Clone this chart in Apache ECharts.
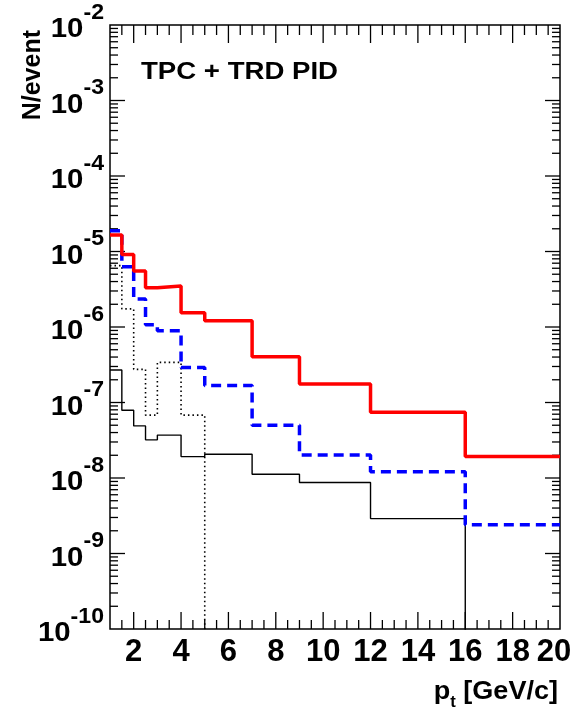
<!DOCTYPE html>
<html>
<head>
<meta charset="utf-8">
<script src="https://cdn.jsdelivr.net/npm/echarts@6/dist/echarts.min.js"></script>
<style>html,body{margin:0;padding:0;background:#fff;}#c{width:586px;height:713px;}</style>
</head>
<body>
<div id="c"></div>
<script>
// Bin lower edges (last value = upper edge of the last bin), GeV/c
const binEdges = [1, 1.5, 2, 2.5, 3, 4, 5, 7, 9, 12, 16, 20];
// N/event per bin
const redValues    = [1.66e-5, 9.1e-6, 5.5e-6, 3.3e-6, 3.5e-6, 1.55e-6, 1.21e-6, 4.05e-7, 1.76e-7, 7.4e-8, 1.92e-8];
const blueValues   = [1.89e-5, 6.3e-6, 2.35e-6, 1.07e-6, 8.9e-7, 2.9e-7, 1.68e-7, 5.0e-8, 2.02e-8, 1.21e-8, 2.4e-9];
const blackValues  = [2.7e-7, 7.9e-8, 4.9e-8, 3.2e-8, 3.7e-8, 1.92e-8, 2.06e-8, 1.12e-8, 8.7e-9, 2.9e-9, 0];
const dottedValues = [6.5e-6, 1.74e-6, 2.75e-7, 6.8e-8, 3.4e-7, 6.8e-8, 0, 0, 0, 0, 0];

// Axis ranges and tick labels
const xMin = 1, xMax = 20;
const yMin = 1e-10, yMax = 1e-2;
const xTickLabels = [2, 4, 6, 8, 10, 12, 14, 16, 18, 20];
const yTickExponents = [-10, -9, -8, -7, -6, -5, -4, -3, -2];

const xMajorTicks = xTickLabels.filter(v => v < xMax);
const xMinorTicks = [];
for (let v = 1.5; v < xMax; v += 0.5) { if (v % 2 !== 0) xMinorTicks.push(v); }
const yMajorTicks = yTickExponents.slice(1, -1).map(e => Math.pow(10, e));
const yMinorTicks = [];
for (let e = -10; e < -2; e++) { for (let k = 2; k <= 9; k++) yMinorTicks.push(k * Math.pow(10, e)); }

const FLOOR = 1e-14; // empty bins are drawn below the visible range (clipped)
function histPoints(vals) {
  const pts = vals.map((v, i) => [binEdges[i], v > 0 ? v : FLOOR]);
  const last = vals[vals.length - 1];
  pts.push([binEdges[binEdges.length - 1], last > 0 ? last : FLOOR]);
  return pts;
}

const tickData = [];
xMajorTicks.forEach(v => tickData.push([v, yMin, 0]));
xMinorTicks.forEach(v => tickData.push([v, yMin, 1]));
yMajorTicks.forEach(v => tickData.push([xMin, v, 2]));
yMinorTicks.forEach(v => tickData.push([xMin, v, 3]));

const FONT = '"Liberation Sans", Arial, Helvetica, sans-serif';

function renderTick(params, api) {
  const kind = api.value(2);
  const st = {stroke: '#000', lineWidth: 1.3};
  if (kind <= 1) {
    const x = api.value(0);
    const len = kind === 0 ? 17 : 9;
    const lenTop = kind === 0 ? 18 : 10;
    const pb = api.coord([x, yMin]);
    const pt = api.coord([x, yMax]);
    return {type: 'group', children: [
      {type: 'line', shape: {x1: pb[0], y1: pb[1], x2: pb[0], y2: pb[1] - len}, style: st},
      {type: 'line', shape: {x1: pt[0], y1: pt[1], x2: pt[0], y2: pt[1] + lenTop}, style: st}
    ]};
  }
  const y = api.value(1);
  const len = kind === 2 ? 15 : 8;
  const pl = api.coord([xMin, y]);
  const pr = api.coord([xMax, y]);
  return {type: 'group', children: [
    {type: 'line', shape: {x1: pl[0], y1: pl[1], x2: pl[0] + len, y2: pl[1]}, style: st},
    {type: 'line', shape: {x1: pr[0], y1: pr[1], x2: pr[0] - len, y2: pr[1]}, style: st}
  ]};
}

function renderXLabel(params, api) {
  const v = api.value(0);
  const p = api.coord([v, yMin]);
  const shift = v === xMax ? -6 : 0; // keep the last label inside the canvas
  return {type: 'text', x: p[0] + shift, y: p[1] + 23,
    style: {text: String(v), font: 'bold 31px ' + FONT, fill: '#000', align: 'center', verticalAlign: 'middle'}};
}

function renderYLabel(params, api) {
  const v = api.value(1);
  const p = api.coord([xMin, v]);
  const e = Math.round(Math.log10(v));
  return {type: 'text', x: p[0] - 6, y: p[1], scaleX: 1.05,
    style: {text: '{b|10}{s|' + e + '}', align: 'right', verticalAlign: 'middle',
      rich: {
        b: {font: 'bold 28px ' + FONT, fill: '#000', lineHeight: 28, padding: [0, 0, 5, 0], verticalAlign: 'bottom'},
        s: {font: 'bold 22px ' + FONT, fill: '#000', lineHeight: 47, padding: [0, 0, 25, 0], verticalAlign: 'top'}
      }}};
}

const chart = echarts.init(document.getElementById('c'), null, {renderer: 'canvas'});
chart.setOption({
  backgroundColor: '#fff',
  animation: false,
  grid: {left: 110, right: 26, top: 25, bottom: 84, show: true, borderColor: '#000', borderWidth: 1.5, backgroundColor: 'transparent'},
  xAxis: {
    type: 'value', min: xMin, max: xMax, interval: 1,
    axisLine: {show: false}, axisTick: {show: false}, splitLine: {show: false}, axisLabel: {show: false}
  },
  yAxis: {
    type: 'log', logBase: 10, min: yMin, max: yMax, splitNumber: 8,
    axisLine: {show: false}, axisTick: {show: false}, splitLine: {show: false}, minorTick: {show: false}, axisLabel: {show: false}
  },
  graphic: [
    {type: 'text', x: 21, y: 30, rotation: Math.PI / 2,
      style: {text: 'N/event', font: 'bold 25px ' + FONT, fill: '#000', align: 'right', verticalAlign: 'top'}},
    {type: 'text', x: 141, y: 61, scaleX: 1.2,
      style: {text: 'TPC + TRD PID', font: 'bold 23px ' + FONT, fill: '#000', align: 'left', verticalAlign: 'top'}},
    {type: 'text', x: 558, y: 677, scaleX: 1.04,
      style: {text: '{a|p}{t|t}{a| [GeV/c]}', align: 'right', verticalAlign: 'top',
        rich: {
          a: {font: 'bold 26px ' + FONT, fill: '#000', lineHeight: 28, verticalAlign: 'bottom'},
          t: {font: 'bold 16px ' + FONT, fill: '#000', lineHeight: 28, verticalAlign: 'bottom', padding: [0, 0, -6, 0]}
        }}}
  ],
  series: [
    {type: 'custom', silent: true, renderItem: renderTick, data: tickData, encode: {x: 0, y: 1}, z: 1},
    {type: 'custom', silent: true, renderItem: renderXLabel, data: xTickLabels.map(v => [v, yMin]), encode: {x: 0, y: 1}, z: 1},
    {type: 'custom', silent: true, renderItem: renderYLabel, data: yTickExponents.map(e => [xMin, Math.pow(10, e)]), encode: {x: 0, y: 1}, z: 1},
    {type: 'line', step: 'end', data: histPoints(dottedValues), showSymbol: false, silent: true, clip: true,
      lineStyle: {color: '#000', width: 1.6, type: [1.5, 3]}, z: 2},
    {type: 'line', step: 'end', data: histPoints(blackValues), showSymbol: false, silent: true, clip: true,
      lineStyle: {color: '#000', width: 1.4}, z: 3},
    {type: 'line', step: 'end', data: histPoints(blueValues), showSymbol: false, silent: true, clip: true,
      lineStyle: {color: '#0000ff', width: 3.5, type: [10, 6]}, z: 4},
    {type: 'line', step: 'end', data: histPoints(redValues), showSymbol: false, silent: true, clip: true,
      lineStyle: {color: '#ff0000', width: 3.5}, z: 5}
  ]
});
</script>
</body>
</html>
